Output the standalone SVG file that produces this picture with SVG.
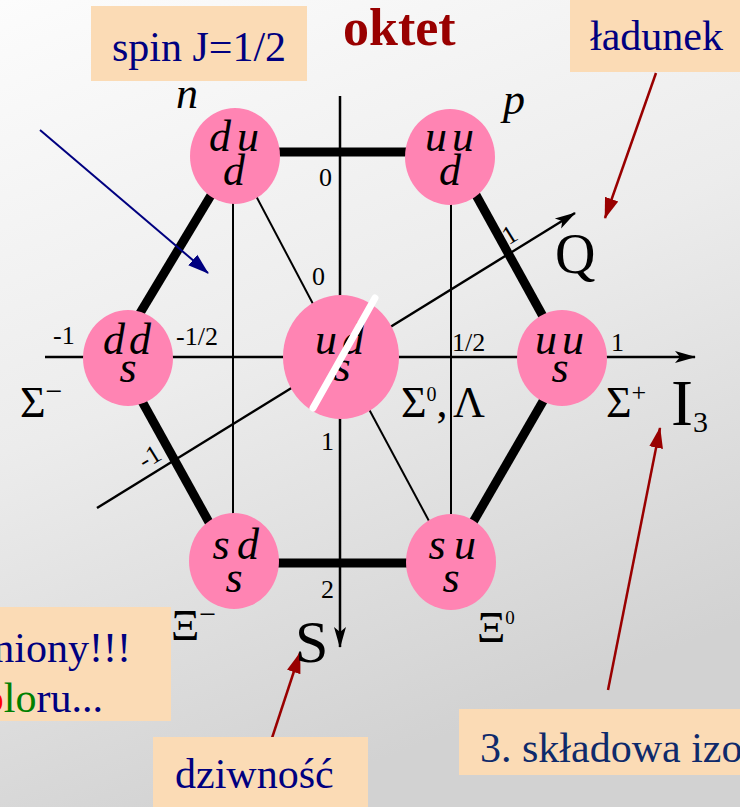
<svg xmlns="http://www.w3.org/2000/svg" width="740" height="807" viewBox="0 0 740 807">
<defs>
<linearGradient id="bg" x1="0" y1="0" x2="0.35" y2="1">
<stop offset="0" stop-color="#fcfcfc"/>
<stop offset="0.5" stop-color="#ececec"/>
<stop offset="1" stop-color="#d2d2d2"/>
</linearGradient>
<marker id="ak" markerWidth="22" markerHeight="14" refX="20" refY="7" orient="auto" markerUnits="userSpaceOnUse">
<path d="M0,1 L21,7 L0,13 L5,7 z" fill="#000"/>
</marker>
<marker id="ar" markerWidth="22" markerHeight="16" refX="20" refY="8" orient="auto" markerUnits="userSpaceOnUse">
<path d="M0,1 L21,8 L0,15 z" fill="#990000"/>
</marker>
<marker id="an" markerWidth="22" markerHeight="16" refX="20" refY="8" orient="auto" markerUnits="userSpaceOnUse">
<path d="M0,1 L21,8 L0,15 z" fill="#000080"/>
</marker>
<style>
.box{fill:#fbdbb5}
.bt{font-family:"Liberation Serif",serif;font-size:42px;fill:#000080}
.node{fill:#ff84b3}
.q{font-family:"Liberation Serif",serif;font-style:italic;font-size:44px;fill:#000;text-anchor:middle}
.num{font-family:"Liberation Serif",serif;font-size:26px;fill:#000}
.lab{font-family:"Liberation Serif",serif;font-size:44px;fill:#000}
.thick{stroke:#000;stroke-width:9;fill:none}
.thin{stroke:#000;stroke-width:2;fill:none}
.axis{stroke:#000;stroke-width:2.5;fill:none;marker-end:url(#ak)}
.red{stroke:#990000;stroke-width:2.5;fill:none;marker-end:url(#ar)}
.navy{stroke:#000080;stroke-width:2;fill:none;marker-end:url(#an)}
</style>
</defs>
<rect x="0" y="0" width="740" height="807" fill="url(#bg)"/>

<g id="connectors">
<line class="thick" x1="235" y1="152" x2="450" y2="152"/>
<line class="thick" x1="233" y1="563" x2="451" y2="563"/>
<line class="thick" x1="234" y1="157" x2="113" y2="358"/>
<line class="thick" x1="118" y1="358" x2="231" y2="562"/>
<line class="thick" x1="455" y1="157" x2="566" y2="358"/>
<line class="thick" x1="568" y1="358" x2="450" y2="562"/>
<line class="thin" x1="233" y1="156" x2="233" y2="561"/>
<line class="thin" x1="451" y1="157" x2="451" y2="562"/>
<line class="thin" x1="235" y1="156" x2="341" y2="357"/>
<line class="thin" x1="341" y1="357" x2="451" y2="562"/>
<line class="axis" x1="45" y1="357" x2="695" y2="357"/>
<line class="axis" x1="340" y1="96" x2="340" y2="647"/>
<line class="axis" x1="97" y1="508" x2="575" y2="213"/>
<line class="navy" x1="40" y1="130" x2="208" y2="273"/>
<line class="red" x1="656" y1="73" x2="605" y2="218"/>
<line class="red" x1="608" y1="690" x2="660" y2="428"/>
<line class="red" x1="272" y1="738" x2="300" y2="653"/>
</g>

<g id="node-n">
<ellipse class="node" cx="235" cy="156" rx="45" ry="48"/>
<text class="q" x="220 248" y="151">du</text>
<text class="q" x="234" y="185">d</text>
</g>
<g id="node-p">
<ellipse class="node" cx="450" cy="157" rx="45" ry="48"/>
<text class="q" x="436 463" y="151">uu</text>
<text class="q" x="450" y="185">d</text>
</g>
<g id="node-sigma-minus">
<ellipse class="node" cx="128" cy="358" rx="45" ry="48"/>
<text class="q" x="114 140" y="354">dd</text>
<text class="q" x="128" y="382">s</text>
</g>
<g id="node-center">
<ellipse class="node" cx="341" cy="357" rx="58" ry="62"/>
<text class="q" x="326 353" y="354">ud</text>
<text class="q" x="342" y="381">s</text>
<line x1="375" y1="298" x2="313" y2="408" stroke="#fff" stroke-width="7" stroke-linecap="round"/>
</g>
<g id="node-sigma-plus">
<ellipse class="node" cx="562" cy="358" rx="45" ry="48"/>
<text class="q" x="546 573" y="354">uu</text>
<text class="q" x="560" y="382">s</text>
</g>
<g id="node-xi-minus">
<ellipse class="node" cx="234" cy="561" rx="45" ry="48"/>
<text class="q" x="221 248" y="559">sd</text>
<text class="q" x="234" y="592">s</text>
</g>
<g id="node-xi-zero">
<ellipse class="node" cx="451" cy="562" rx="45" ry="48"/>
<text class="q" x="437 465" y="559">su</text>
<text class="q" x="451" y="592">s</text>
</g>

<g id="axis-labels">
<text class="num" x="319" y="186">0</text>
<text class="num" x="312" y="285">0</text>
<text class="num" x="53" y="344">-1</text>
<text class="num" x="176" y="345">-1/2</text>
<text class="num" x="452" y="351">1/2</text>
<text class="num" x="611" y="351">1</text>
<text class="num" x="321" y="450">1</text>
<text class="num" x="321" y="598">2</text>
<text class="num" text-anchor="middle" transform="translate(514,242) rotate(-31.6)">1</text>
<text class="num" text-anchor="middle" transform="translate(154,464) rotate(-31.6)">-1</text>
<text class="q" x="187" y="108">n</text>
<text class="q" x="514" y="114">p</text>
<text class="lab" x="20" y="417">Σ<tspan style="font-size:30px" dy="-16">−</tspan></text>
<text class="lab" x="401" y="417">Σ<tspan style="font-size:20px" dy="-16">0</tspan><tspan dy="16">,</tspan><tspan x="453">Λ</tspan></text>
<text class="lab" x="606" y="417">Σ<tspan style="font-size:26px" dy="-16">+</tspan></text>
<text class="lab" x="171" y="640">Ξ<tspan style="font-size:30px" dy="-16">−</tspan></text>
<text class="lab" x="477" y="642">Ξ<tspan style="font-size:19px" dy="-18">0</tspan></text>
<text class="lab" x="671" y="425" style="font-size:66px">I<tspan style="font-size:30px" dy="7">3</tspan></text>
<text class="lab" x="555" y="273" style="font-size:56px">Q</text>
<text class="lab" x="295" y="662" style="font-size:60px">S</text>
</g>

<g id="title">
<text x="343" y="45" font-family="Liberation Serif,serif" font-size="52" font-weight="bold" fill="#990000">oktet</text>
</g>
<g id="box-spin">
<rect class="box" x="91" y="6" width="216" height="75"/>
<text class="bt" x="199" y="61" text-anchor="middle">spin J=1/2</text>
</g>
<g id="box-ladunek">
<rect class="box" x="570" y="0" width="170" height="72"/>
<text class="bt" x="590" y="50">ładunek</text>
</g>
<g id="box-fermiony">
<rect class="box" x="0" y="607" width="171" height="114"/>
<text class="bt" x="131" y="662" text-anchor="end">niony!!!</text>
<text class="bt" x="103" y="712" text-anchor="end"><tspan fill="#ff0000">o</tspan><tspan fill="#008000">lo</tspan><tspan fill="#000080">ru...</tspan></text>
</g>
<g id="box-dziwnosc">
<rect class="box" x="153" y="737" width="215" height="70"/>
<text class="bt" x="175" y="788">dziwność</text>
</g>
<g id="box-izospin">
<rect class="box" x="459" y="709" width="281" height="66"/>
<text class="bt" x="480" y="762" style="fill:#0f2a6b">3. składowa izo</text>
</g>
</svg>
